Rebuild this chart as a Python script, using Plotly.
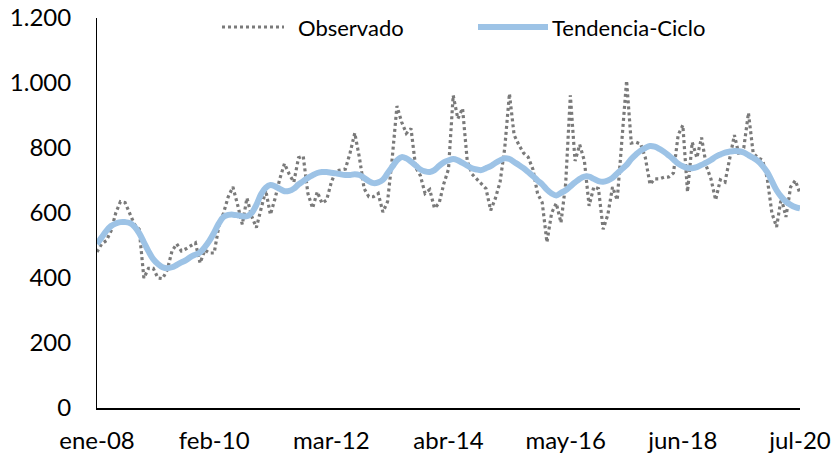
import plotly.graph_objects as go

# Monthly index 0 = ene-08 ... 150 = jul-20
observado_2008 = [480, 505, 515, 545, 600, 635, 632, 600, 565, 550, 400, 430]
observado_2009 = [430, 400, 398, 425, 483, 505, 483, 490, 500, 508, 446, 486]
observado_2010 = [477, 477, 560, 600, 650, 680, 625, 565, 646, 590, 555, 610]
observado_2011 = [670, 595, 645, 705, 752, 720, 695, 770, 775, 660, 615, 665]
observado_2012 = [630, 640, 695, 730, 732, 735, 785, 846, 770, 675, 650, 650]
observado_2013 = [660, 603, 635, 770, 929, 880, 845, 860, 740, 715, 660, 672]
observado_2014 = [615, 630, 690, 735, 962, 890, 922, 760, 720, 705, 690, 675]
observado_2015 = [608, 645, 695, 800, 967, 840, 810, 785, 772, 735, 660, 632]
observado_2016 = [510, 600, 630, 570, 690, 962, 760, 810, 760, 622, 680, 675]
observado_2017 = [550, 595, 680, 640, 825, 1007, 815, 818, 812, 770, 688, 705]
observado_2018 = [705, 710, 711, 723, 840, 870, 665, 818, 770, 832, 745, 705]
observado_2019 = [640, 702, 695, 770, 840, 778, 800, 908, 785, 770, 763, 708]
observado_2020 = [600, 557, 646, 588, 680, 700, 660]

tendencia_2008 = [505, 525, 545, 560, 568, 572, 572, 569, 558, 538, 510, 482]
tendencia_2009 = [458, 443, 433, 430, 433, 440, 448, 455, 465, 472, 479, 495]
tendencia_2010 = [515, 540, 568, 588, 594, 595, 593, 590, 590, 600, 625, 658]
tendencia_2011 = [678, 686, 682, 674, 667, 668, 675, 688, 698, 708, 716, 723]
tendencia_2012 = [726, 726, 724, 722, 719, 717, 717, 719, 717, 708, 698, 692]
tendencia_2013 = [694, 702, 722, 742, 762, 772, 768, 758, 746, 734, 728, 726]
tendencia_2014 = [732, 745, 756, 762, 766, 762, 754, 746, 738, 734, 732, 738]
tendencia_2015 = [744, 754, 762, 768, 766, 757, 748, 738, 726, 714, 700, 688]
tendencia_2016 = [672, 660, 654, 662, 670, 682, 694, 705, 712, 712, 705, 698]
tendencia_2017 = [696, 700, 708, 722, 735, 748, 766, 780, 792, 800, 806, 804]
tendencia_2018 = [797, 788, 777, 765, 752, 744, 739, 738, 741, 748, 755, 763]
tendencia_2019 = [773, 780, 786, 789, 791, 790, 786, 778, 770, 760, 745, 726]
tendencia_2020 = [698, 670, 650, 635, 625, 618, 614]

tick_months = [0, 25, 50, 75, 100, 125, 150]
tick_labels = ["ene-08", "feb-10", "mar-12", "abr-14", "may-16", "jun-18", "jul-20"]
y_ticks = [0, 200, 400, 600, 800, 1000, 1200]

observado = (observado_2008 + observado_2009 + observado_2010 + observado_2011 +
             observado_2012 + observado_2013 + observado_2014 + observado_2015 +
             observado_2016 + observado_2017 + observado_2018 + observado_2019 +
             observado_2020)
tendencia = (tendencia_2008 + tendencia_2009 + tendencia_2010 + tendencia_2011 +
             tendencia_2012 + tendencia_2013 + tendencia_2014 + tendencia_2015 +
             tendencia_2016 + tendencia_2017 + tendencia_2018 + tendencia_2019 +
             tendencia_2020)
months = list(range(len(observado)))

FONT = "Lato, Carlito, 'Liberation Sans Narrow', Arial, sans-serif"
GREY = "#7a7a7a"
BLUE = "#9dc3e6"
DOT = "3px,3px"
DOT_W = 3.2

fig = go.Figure()
fig.add_trace(go.Scatter(x=months, y=observado, mode="lines", name="Observado",
                         line=dict(color=GREY, width=DOT_W, dash=DOT),
                         showlegend=False))
fig.add_trace(go.Scatter(x=months, y=tendencia, mode="lines", name="Tendencia-Ciclo",
                         line=dict(color=BLUE, width=6, shape="spline", smoothing=1.0),
                         showlegend=False))

W, H = 833, 457
L, R, T, B = 97, 33, 18, 49
pw, ph = W - L - R, H - T - B

def px(xp):
    return (xp - L) / pw

def py(yp):
    return (H - B - yp) / ph

leg_y = 27
fig.add_shape(type="line", xref="paper", yref="paper", x0=px(222), x1=px(284),
              y0=py(leg_y), y1=py(leg_y), line=dict(color=GREY, width=DOT_W, dash=DOT))
fig.add_shape(type="line", xref="paper", yref="paper", x0=px(478), x1=px(548),
              y0=py(leg_y), y1=py(leg_y), line=dict(color=BLUE, width=6))
fig.add_annotation(xref="paper", yref="paper", x=px(296), y=py(leg_y), text="Observado",
                   showarrow=False, xanchor="left", yanchor="middle",
                   font=dict(family=FONT, size=22, color="#000000"))
fig.add_annotation(xref="paper", yref="paper", x=px(550), y=py(leg_y), text="Tendencia-Ciclo",
                   showarrow=False, xanchor="left", yanchor="middle",
                   font=dict(family=FONT, size=22, color="#000000"))

fig.update_layout(
    width=W, height=H,
    margin=dict(l=L, r=R, t=T, b=B, pad=0, autoexpand=False),
    paper_bgcolor="white", plot_bgcolor="white",
    separators=",.",
    font=dict(family=FONT, size=24, color="#000000"),
    showlegend=False,
)
fig.update_xaxes(range=[0, 150], tickvals=tick_months, ticktext=tick_labels,
                 showgrid=False, zeroline=False, showline=True, linecolor="#000000",
                 linewidth=2, ticks="", ticklabelstandoff=10, automargin=False,
                 ticklabeloverflow="allow", tickfont=dict(size=24))
fig.update_yaxes(range=[0, 1200], tickvals=y_ticks, tickformat=",d",
                 showgrid=False, zeroline=False, showline=True, linecolor="#000000",
                 linewidth=1, ticks="", ticklabelstandoff=20, automargin=False,
                 ticklabeloverflow="allow", tickfont=dict(size=24))

# remove the default 8px body margin so the figure fills the window exactly
fig.write_html("out.html", config={"displayModeBar": False, "staticPlot": True},
               post_script="document.body.style.margin='0px';")
